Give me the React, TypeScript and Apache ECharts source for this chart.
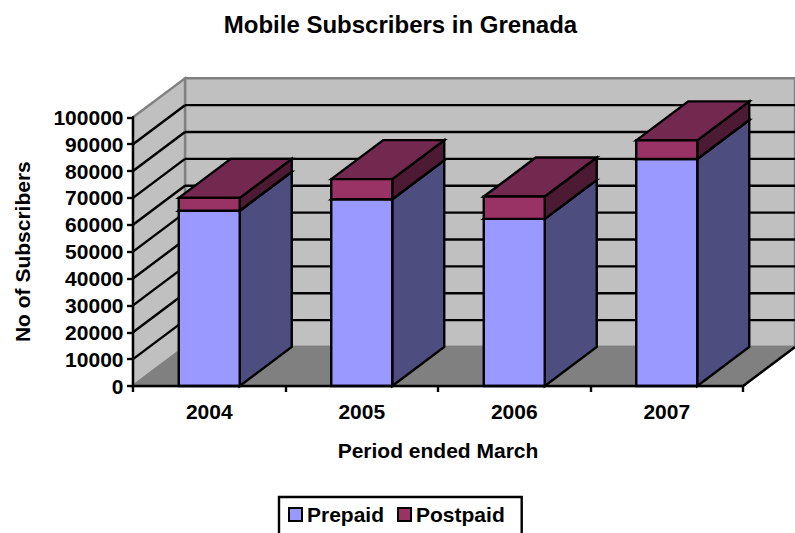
import React, { useEffect, useRef } from "react";
import * as echarts from "echarts";

const categories = ["2004", "2005", "2006", "2007"];
const prepaid = [65200, 69500, 62200, 84500];
const postpaid = [4800, 7500, 8300, 6900];
const yTicks = [0, 10000, 20000, 30000, 40000, 50000, 60000, 70000, 80000, 90000, 100000];
const titleText = "Mobile Subscribers in Grenada";
const xName = "Period ended March";
const yName = "No of Subscribers";

const DX = 52;
const DY = 39;
const FONT = '"Liberation Sans", Arial, sans-serif';
const BLACK = "#000000";
const GREY = "#808080";
const WALL = "#c0c0c0";

function poly(points: number[][], fill: string, stroke: string, lw = 2.4) {
  return {
    type: "polygon",
    shape: { points },
    style: { fill, stroke, lineWidth: lw, lineJoin: "miter" },
  };
}
function line(a: number[], b: number[], stroke: string, lw = 2.4) {
  return {
    type: "line",
    shape: { x1: a[0], y1: a[1], x2: b[0], y2: b[1] },
    style: { stroke, lineWidth: lw },
  };
}

function renderWalls(params: any, api: any) {
  const v = api.value(0);
  const band = api.size([1, 0])[0];
  const left = api.coord([0, v])[0] - band / 2;
  const right = left + band * categories.length;
  const y = api.coord([0, v])[1];
  const edge = v === 0 || v === yTicks[yTicks.length - 1];
  const children: any[] = [];
  if (params.dataIndex === 0) {
    const y0 = y;
    const yTop = api.coord([0, yTicks[yTicks.length - 1]])[1];
    children.push(
      poly([[left + DX, yTop - DY], [right + DX, yTop - DY], [right + DX, y0 - DY], [left + DX, y0 - DY]], WALL, GREY),
      poly([[left, yTop], [left + DX, yTop - DY], [left + DX, y0 - DY], [left, y0]], WALL, GREY),
      poly([[left, y0], [left + DX, y0 - DY], [right + DX, y0 - DY], [right, y0]], GREY, GREY),
      line([right, y0], [right + DX, y0 - DY], BLACK)
    );
  }
  if (!edge) {
    children.push(
      line([left, y], [left + DX, y - DY], BLACK),
      line([left + DX, y - DY], [right + DX, y - DY], BLACK)
    );
  }
  return { type: "group", children };
}

function renderBar(front: string, top: string, side: string) {
  return (_params: any, api: any) => {
    const c = api.value(0);
    const lo = api.coord([c, api.value(1)]);
    const hi = api.coord([c, api.value(2)]);
    const w = api.size([1, 0])[0] * 0.4;
    const x0 = lo[0] - w / 2;
    const x1 = lo[0] + w / 2;
    return {
      type: "group",
      children: [
        poly([[x1, lo[1]], [x1 + DX, lo[1] - DY], [x1 + DX, hi[1] - DY], [x1, hi[1]]], side, BLACK),
        poly([[x0, hi[1]], [x0 + DX, hi[1] - DY], [x1 + DX, hi[1] - DY], [x1, hi[1]]], top, BLACK),
        poly([[x0, lo[1]], [x1, lo[1]], [x1, hi[1]], [x0, hi[1]]], front, BLACK),
      ],
    };
  };
}

export default function App() {
  const ref = useRef<HTMLDivElement>(null);
  useEffect(() => {
    document.body.style.margin = "0";
    document.body.style.overflow = "hidden";
    const chart = echarts.init(ref.current!, undefined, { renderer: "svg" });
    const axisLine = { show: true, lineStyle: { color: BLACK, width: 2.4 } };
    const axisTick = { show: true, length: 6, lineStyle: { color: BLACK, width: 2.4 } };
    const label = { color: BLACK, fontFamily: FONT, fontWeight: "bold" as const, fontSize: 21 };
    chart.setOption({
      animation: false,
      backgroundColor: "#ffffff",
      title: {
        text: titleText,
        left: 395.5,
        top: 7,
        textAlign: "center",
        textStyle: { ...label, fontSize: 24 },
      },
      grid: { left: 133, top: 117.3, width: 610, height: 268.7, outerBoundsMode: "none" },
      legend: {
        left: 279,
        top: 497,
        orient: "horizontal",
        selectedMode: false,
        data: ["Prepaid", "Postpaid"],
        icon: "rect",
        itemWidth: 13,
        itemHeight: 13,
        itemGap: 13,
        padding: [7, 17, 20, 9],
        borderColor: BLACK,
        borderWidth: 2.4,
        backgroundColor: "#ffffff",
        textStyle: { ...label },
      },
      xAxis: {
        type: "category",
        data: categories,
        z: 5,
        axisLine,
        axisTick,
        axisLabel: { ...label, margin: 15 },
        name: xName,
        nameLocation: "middle",
        nameGap: 54,
        nameTextStyle: label,
        splitLine: { show: false },
      },
      yAxis: {
        type: "value",
        min: 0,
        max: 100000,
        interval: 10000,
        z: 5,
        axisLine,
        axisTick,
        axisLabel: { ...label, margin: 9.5, formatter: (v: number) => String(v) },
        name: yName,
        nameLocation: "middle",
        nameGap: 100,
        nameRotate: 90,
        nameTextStyle: label,
        splitLine: { show: false },
      },
      series: [
        {
          type: "custom",
          name: "walls",
          renderItem: renderWalls,
          data: yTicks.map((t) => [t]),
          encode: { y: 0 },
          silent: true,
          z: 1,
        },
        {
          type: "custom",
          name: "Prepaid",
          renderItem: renderBar("#9999ff", "#7373bf", "#4d4d80"),
          itemStyle: { color: "#9999ff", borderColor: BLACK, borderWidth: 2.4 },
          data: prepaid.map((v, i) => [i, 0, v]),
          encode: { x: 0, y: [1, 2] },
          z: 2,
        },
        {
          type: "custom",
          name: "Postpaid",
          renderItem: renderBar("#993366", "#73294f", "#4d1a33"),
          itemStyle: { color: "#993366", borderColor: BLACK, borderWidth: 2.4 },
          data: postpaid.map((v, i) => [i, prepaid[i], prepaid[i] + v]),
          encode: { x: 0, y: [1, 2] },
          z: 3,
        },
      ],
    });
    return () => chart.dispose();
  }, []);
  return <div ref={ref} style={{ width: 795, height: 533 }} />;
}
